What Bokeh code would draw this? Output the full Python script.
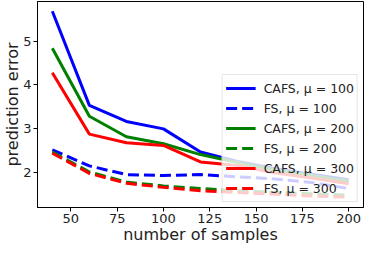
from bokeh.plotting import figure
from bokeh.models import FixedTicker, Range1d, Legend, LegendItem
from bokeh.embed import file_html
from bokeh.resources import INLINE

samples = [40, 60, 80, 100, 120, 140, 160, 180, 200]
cafs_100 = [5.69, 3.53, 3.16, 2.99, 2.46, 2.24, 2.08, 1.95, 1.82]
fs_100 = [2.51, 2.14, 1.94, 1.92, 1.94, 1.89, 1.84, 1.76, 1.62]
cafs_200 = [4.84, 3.28, 2.81, 2.65, 2.40, 2.22, 2.05, 1.92, 1.79]
fs_200 = [2.46, 2.00, 1.77, 1.68, 1.62, 1.57, 1.53, 1.50, 1.47]
cafs_300 = [4.28, 2.87, 2.67, 2.61, 2.23, 2.15, 1.98, 1.86, 1.73]
fs_300 = [2.43, 1.97, 1.74, 1.65, 1.57, 1.53, 1.49, 1.45, 1.42]
labels = ["CAFS, μ = 100", "FS, μ = 100", "CAFS, μ = 200",
          "FS, μ = 200", "CAFS, μ = 300", "FS, μ = 300"]
x_ticks = [50, 75, 100, 125, 150, 175, 200]
y_ticks = [2, 3, 4, 5]

FONT = "DejaVu Sans"

p = figure(width=364, height=246, output_backend="svg", toolbar_location=None,
           x_range=Range1d(32, 208), y_range=Range1d(1.185, 5.915),
           min_border_left=0, min_border_right=1, min_border_top=1, min_border_bottom=0)
p.grid.visible = False
p.outline_line_color = "black"
p.outline_line_width = 1
p.background_fill_color = "white"
p.border_fill_color = "white"

series = [(cafs_100, "blue", None), (fs_100, "blue", "11 5"),
          (cafs_200, "green", None), (fs_200, "green", "11 5"),
          (cafs_300, "red", None), (fs_300, "red", "11 5")]
items = []
for (vals, col, dash), lab in zip(series, labels):
    kw = {}
    if dash:
        kw["line_dash"] = dash
    r = p.line(samples, vals, line_color=col, line_width=3, **kw)
    items.append(LegendItem(label=lab, renderers=[r]))

for ax in (p.xaxis[0], p.yaxis[0]):
    ax.axis_line_color = "black"
    ax.major_tick_line_color = "black"
    ax.major_tick_out = 4
    ax.major_tick_in = 0
    ax.minor_tick_line_color = None
    ax.major_label_text_font = FONT
    ax.major_label_text_font_size = "13px"
    ax.major_label_text_color = "#222222"
    ax.axis_label_text_font = FONT
    ax.axis_label_text_font_size = "16px"
    ax.axis_label_text_font_style = "normal"
    ax.axis_label_text_color = "#222222"
    ax.major_label_standoff = 2

p.xaxis[0].axis_label_standoff = -1
p.yaxis[0].axis_label_standoff = -2
p.xaxis[0].ticker = FixedTicker(ticks=x_ticks)
p.yaxis[0].ticker = FixedTicker(ticks=y_ticks)
p.xaxis[0].axis_label = "number of samples"
p.yaxis[0].axis_label = "prediction error"

legend = Legend(items=items, location="bottom_right")
legend.margin = 5
legend.padding = 3
legend.spacing = 0
legend.glyph_width = 30
legend.glyph_height = 20
legend.label_height = 20
legend.label_standoff = 8
legend.label_text_font = FONT
legend.label_text_font_size = "12.5px"
legend.label_text_color = "#222222"
legend.background_fill_alpha = 0.8
legend.border_line_color = "#cccccc"
legend.border_line_width = 1
p.add_layout(legend)

open("out.html", "w").write(file_html(p, INLINE))
